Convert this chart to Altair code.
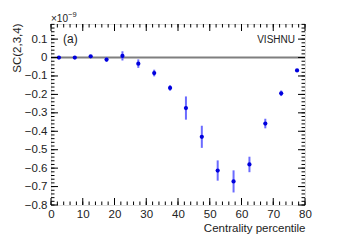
import altair as alt
import pandas as pd
import numpy as np

centrality = [2.5, 7.5, 12.5, 17.5, 22.5, 27.5, 32.5, 37.5, 42.5, 47.5, 52.5, 57.5, 62.5, 67.5, 72.5, 77.5]
sc234 = [0.0, 0.0, 0.007, -0.011, 0.009, -0.033, -0.084, -0.165, -0.274, -0.43, -0.613, -0.672, -0.58, -0.358, -0.194, -0.07]
err = [0.003, 0.003, 0.004, 0.012, 0.025, 0.023, 0.018, 0.015, 0.063, 0.06, 0.055, 0.06, 0.042, 0.026, 0.015, 0.007]

x_major = [0, 10, 20, 30, 40, 50, 60, 70, 80]
x_minor = list(np.arange(0, 80.01, 2))
y_major = [-0.8, -0.7, -0.6, -0.5, -0.4, -0.3, -0.2, -0.1, 0.0, 0.1]
y_minor = list(np.round(np.arange(-0.8, 0.181, 0.02), 3))

W, H = 254, 181
XMIN, XMAX = 0, 80
YMIN, YMAX = -0.8, 0.182
FONT = "Liberation Sans"

df = pd.DataFrame({"x": centrality, "y": sc234,
                   "lo": [v - e for v, e in zip(sc234, err)],
                   "hi": [v + e for v, e in zip(sc234, err)]})

xs = alt.Scale(domain=[XMIN, XMAX], nice=False, zero=False)
ys = alt.Scale(domain=[YMIN, YMAX], nice=False, zero=False)

base = alt.Chart(df)

xaxis = alt.Axis(values=x_major, ticks=False, domain=False, grid=False,
                 labelFont=FONT, labelFontSize=11.5, labelColor="#222",
                 labelPadding=3, format="d", labelOverlap=False, labelFlush=False,
                 title="Centrality percentile", titleFont=FONT, titleFontSize=11.5,
                 titleFontWeight="normal", titleColor="#222",
                 titleAlign="right", titleAnchor="end", titleX=W, titleY=26,
                 titleBaseline="alphabetic")
yaxis = alt.Axis(values=y_major, ticks=False, domain=False, grid=False,
                 labelFont=FONT, labelFontSize=11.5, labelColor="#222",
                 labelPadding=4, labelOverlap=False, labelFlush=False,
                 labelExpr="datum.value == 0 ? '0' : replace(format(datum.value, '.1f'), '-', '\u2212')",
                 title="SC(2,3,4)", titleFont=FONT, titleFontSize=11.5,
                 titleFontWeight="normal", titleColor="#222",
                 titleAngle=270, titleAlign="right", titleX=-31, titleY=-1,
                 titleBaseline="alphabetic")

zero = alt.Chart(pd.DataFrame({"y": [0.0]})).mark_rule(color="#7f7f7f", strokeWidth=2).encode(
    y=alt.Y("y:Q", scale=ys, axis=yaxis))

bars = base.mark_rule(color="#6b6bff", strokeWidth=2).encode(
    x=alt.X("x:Q", scale=xs, axis=xaxis),
    y=alt.Y("lo:Q", scale=ys, axis=yaxis),
    y2="hi:Q")

pts = base.mark_circle(color="#0000dd", size=18, opacity=1).encode(
    x=alt.X("x:Q", scale=xs, axis=xaxis),
    y=alt.Y("y:Q", scale=ys, axis=yaxis))

def xticks(vals, length, top):
    d = pd.DataFrame({"x": vals})
    if top:
        y0, y1 = 0, length
    else:
        y0, y1 = H - length, H
    return alt.Chart(d).mark_rule(color="black", strokeWidth=1).encode(
        x=alt.X("x:Q", scale=xs, axis=xaxis), y=alt.value(y0), y2=alt.value(y1))

def yticks(vals, length, right):
    d = pd.DataFrame({"y": vals})
    if right:
        x0, x1 = W - length, W
    else:
        x0, x1 = 0, length
    return alt.Chart(d).mark_rule(color="black", strokeWidth=1).encode(
        y=alt.Y("y:Q", scale=ys, axis=yaxis), x=alt.value(x0), x2=alt.value(x1))

ticks = [xticks(x_major, 7, False), xticks(x_minor, 3.5, False),
         xticks(x_major, 7, True), xticks(x_minor, 3.5, True),
         yticks(y_major, 7, False), yticks(y_minor, 3.5, False),
         yticks(y_major, 7, True), yticks(y_minor, 3.5, True)]

def label(text, x, y, size, align="left"):
    return alt.Chart(pd.DataFrame({"t": [text]})).mark_text(
        font=FONT, fontSize=size, align=align, baseline="alphabetic", color="#222").encode(
        text="t:N", x=alt.value(x), y=alt.value(y))

texts = [label("(a)", 12, 19, 12),
         label("VISHNU", W - 10, 19, 10, "right"),
         label("\u00d710", 0, -2, 10),
         label("\u22129", 17, -7, 7.5)]

chart = alt.layer(zero, bars, pts, *ticks, *texts).properties(
    width=W, height=H,
    autosize=alt.AutoSizeParams(type="none"),
    padding={"left": 43, "top": 16, "right": 20, "bottom": 30}
).configure_view(stroke="black", strokeWidth=1.2).configure(background="white")

chart.save("out.html", embed_options={"renderer": "svg", "actions": False})
